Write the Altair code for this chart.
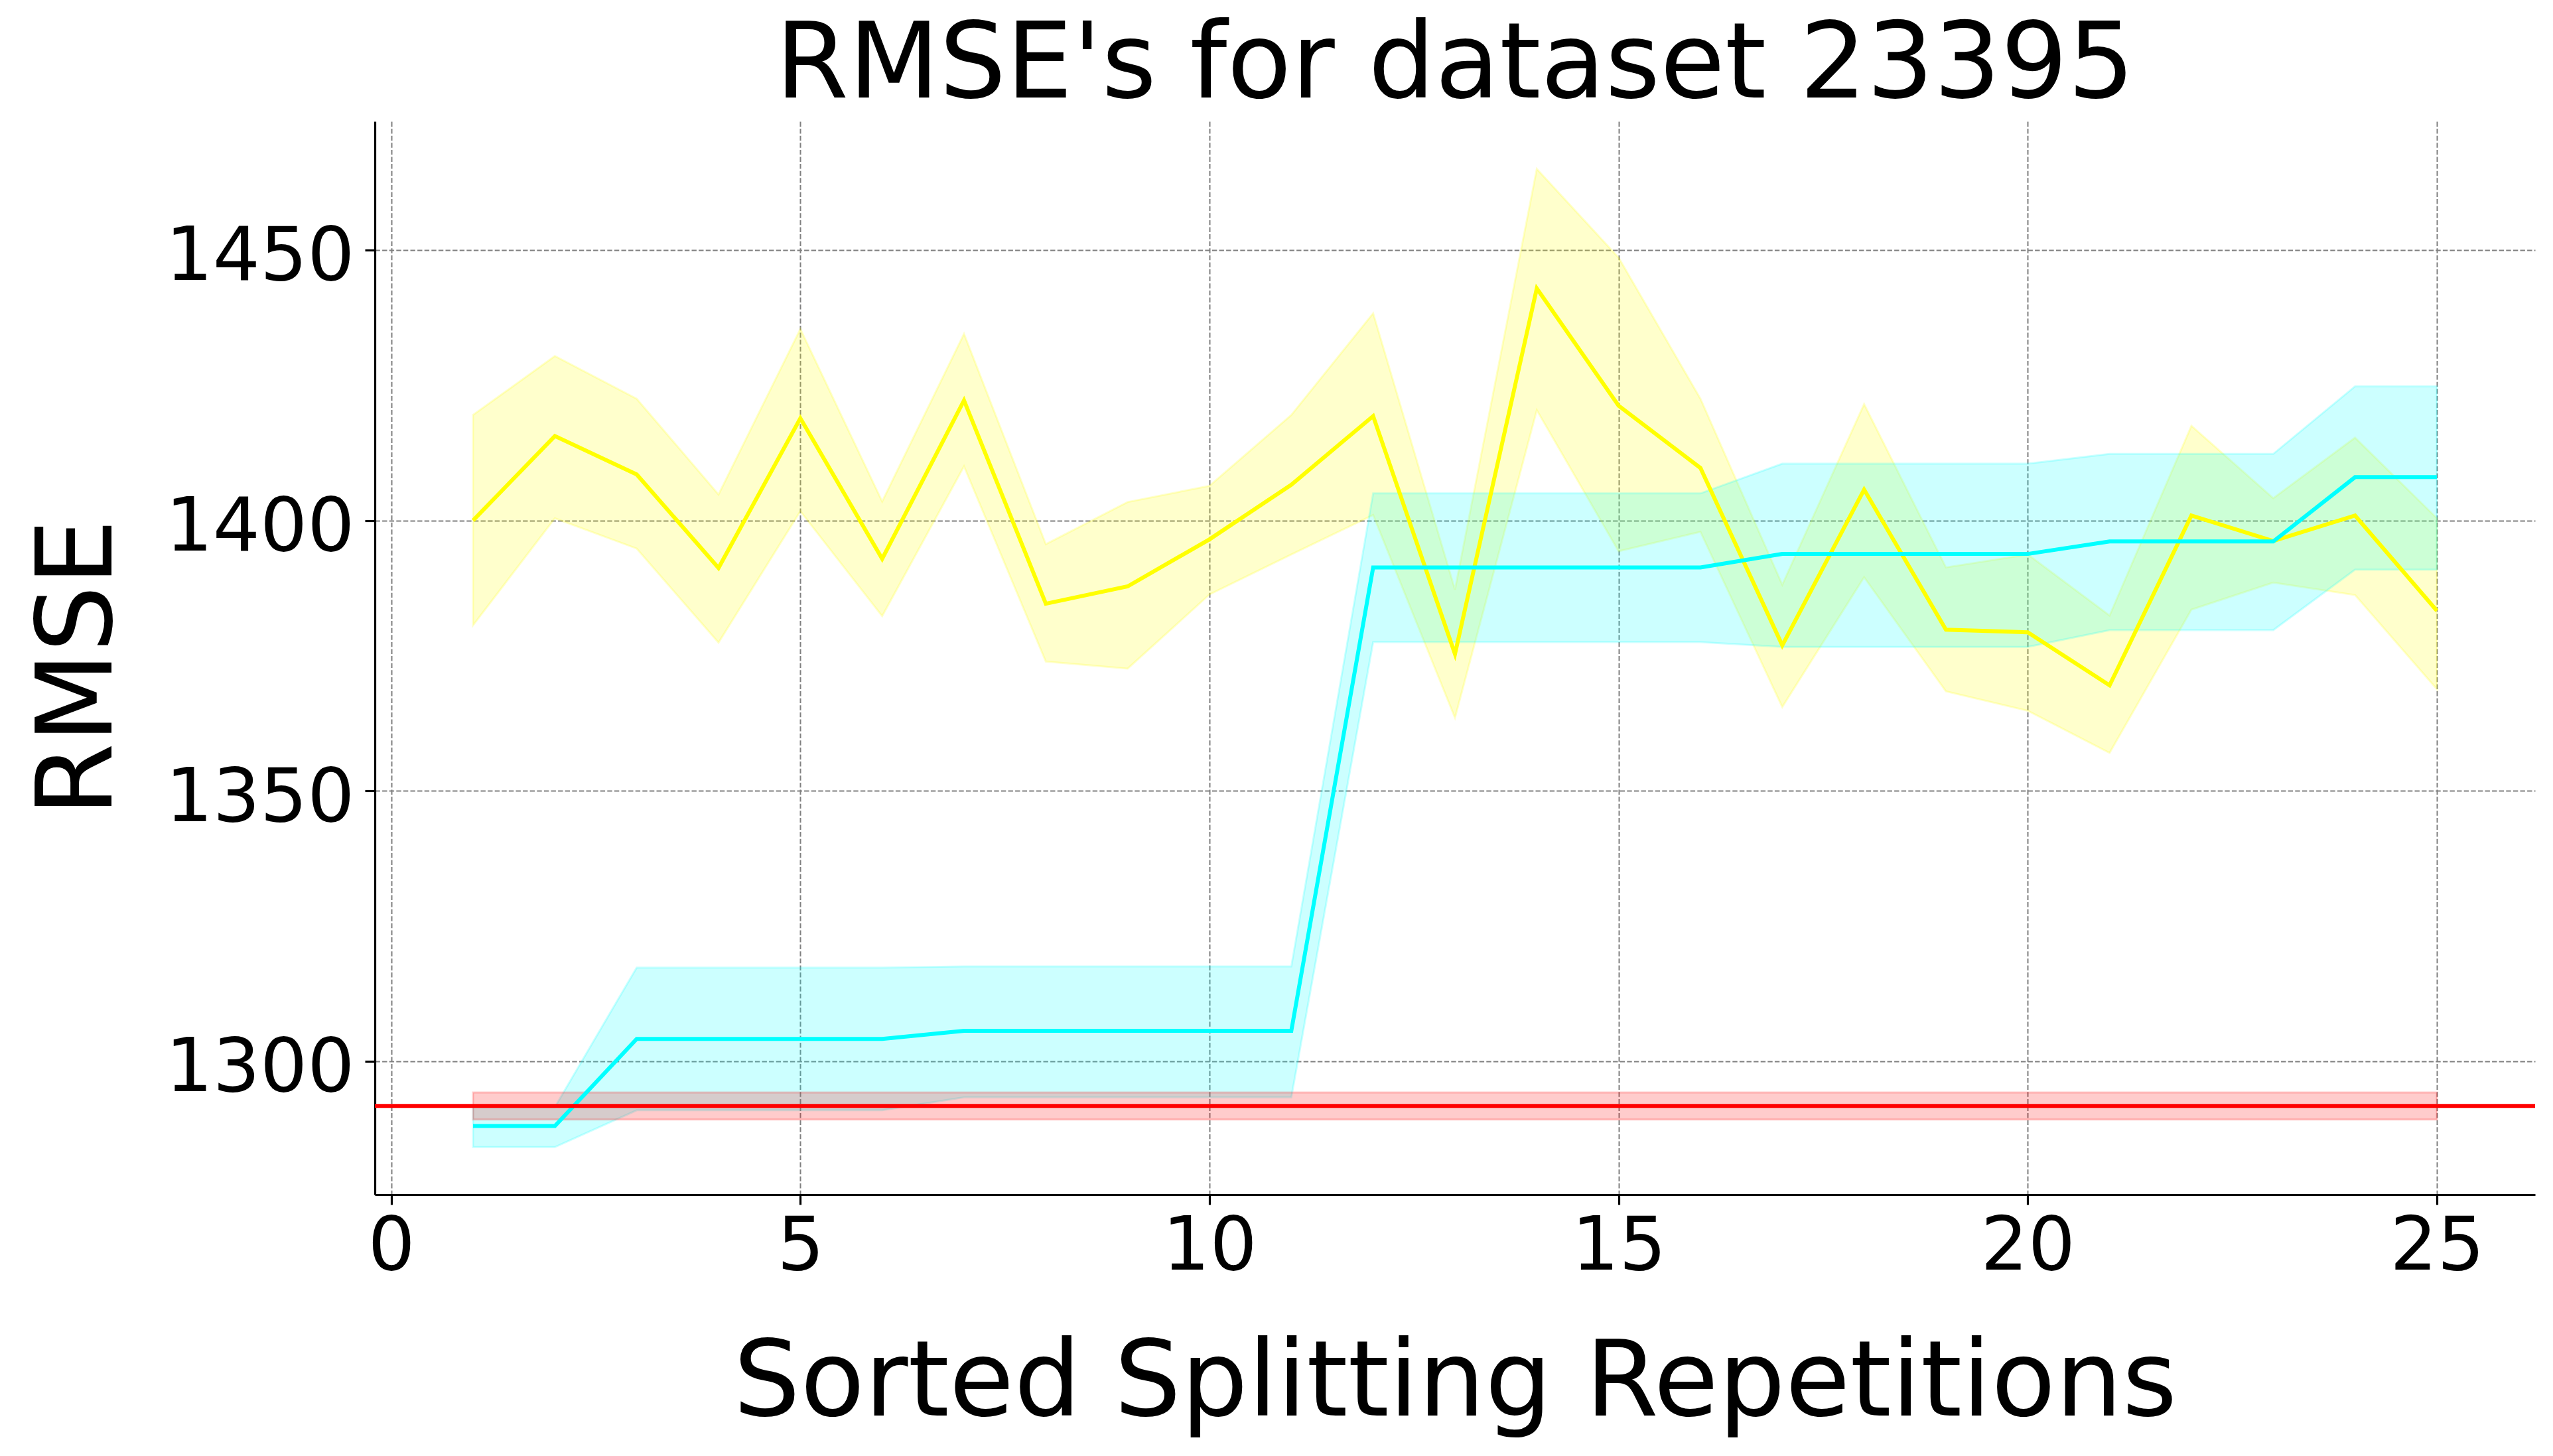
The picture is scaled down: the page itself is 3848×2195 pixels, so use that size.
import altair as alt
import pandas as pd

# ---------------- data ----------------
reps = list(range(1, 26))

yellow_mean = [1400.0, 1415.6, 1408.5, 1391.2, 1418.9, 1392.9, 1422.2, 1384.6, 1387.8, 1396.5,
               1406.6, 1419.3, 1375.3, 1442.9, 1421.2, 1409.7, 1376.9, 1405.7, 1379.8, 1379.3,
               1369.5, 1400.9, 1396.2, 1400.9, 1383.3]
yellow_upper = [1419.5, 1430.4, 1422.5, 1404.8, 1435.4, 1403.5, 1434.5, 1395.6, 1403.4, 1406.4,
                1419.5, 1438.3, 1387.2, 1465.0, 1448.6, 1422.5, 1388.1, 1421.5, 1391.3, 1393.7,
                1382.4, 1417.5, 1404.1, 1415.3, 1400.4]
yellow_lower = [1380.6, 1400.4, 1394.8, 1377.4, 1401.7, 1382.3, 1410.0, 1373.9, 1372.6, 1386.3,
                1393.7, 1401.0, 1363.5, 1420.4, 1394.3, 1397.9, 1365.5, 1389.5, 1368.4, 1364.8,
                1357.0, 1383.5, 1388.5, 1386.2, 1368.8]

cyan_mean = [1288.0, 1288.0, 1304.1, 1304.1, 1304.1, 1304.1, 1305.6, 1305.6, 1305.6, 1305.6,
             1305.6, 1391.3, 1391.3, 1391.3, 1391.3, 1391.3, 1393.8, 1393.8, 1393.8, 1393.8,
             1396.1, 1396.1, 1396.1, 1408.0, 1408.0]
cyan_upper = [1291.5, 1291.5, 1317.3, 1317.3, 1317.3, 1317.3, 1317.5, 1317.5, 1317.5, 1317.5,
              1317.5, 1405.0, 1405.0, 1405.0, 1405.0, 1405.0, 1410.5, 1410.5, 1410.5, 1410.5,
              1412.3, 1412.3, 1412.3, 1424.8, 1424.8]
cyan_lower = [1284.1, 1284.1, 1290.9, 1290.9, 1290.9, 1290.9, 1293.3, 1293.3, 1293.3, 1293.3,
              1293.3, 1377.5, 1377.5, 1377.5, 1377.5, 1377.5, 1376.6, 1376.6, 1376.6, 1376.6,
              1379.7, 1379.7, 1379.7, 1390.9, 1390.9]

red_band_x = [1, 25]
red_upper = [1294.2, 1294.2]
red_lower = [1289.2, 1289.2]
red_mean = [1291.7]

x_ticks = [0, 5, 10, 15, 20, 25]
y_ticks = [1300, 1350, 1400, 1450]

title_text = "RMSE's for dataset 23395"
x_title = "Sorted Splitting Repetitions"
y_title = "RMSE"

# ---------------- styling ----------------
FONT = "DejaVu Sans"
BIG = 158.7
x_scale = alt.Scale(domain=[-0.2, 26.2], nice=False, zero=False)
y_scale = alt.Scale(domain=[1275.3, 1473.8], nice=False, zero=False)

common_axis = dict(
    labelFont=FONT, labelFontSize=112, labelColor="black", labelLimit=0,
    titleFont=FONT, titleFontSize=BIG, titleFontWeight="normal", titleColor="black",
    titleLimit=0,
    tickSize=15, tickWidth=3.2, tickColor="black",
    domainColor="black", domainWidth=3.2,
    grid=True, gridColor="#808080", gridDash=[7.4, 3.2], gridWidth=2,
    labelOverlap=False, labelFlush=False,
)

x_axis = alt.Axis(values=x_ticks, format="d", title=x_title,
                  titleY=332, titleBaseline="alphabetic",
                  labelBaseline="alphabetic", labelPadding=97,
                  **common_axis)
y_axis = alt.Axis(values=y_ticks, format="d", title=y_title,
                  titleX=-398, titleY=823, titleAngle=270, titleAlign="center",
                  titleBaseline="alphabetic",
                  labelBaseline="alphabetic", labelOffset=45, labelPadding=16,
                  labelAlign="right",
                  **common_axis)


def band(x, lo, hi, color):
    df = pd.DataFrame({"x": x, "lo": lo, "hi": hi})
    return alt.Chart(df).mark_area(
        color=color, fillOpacity=0.2, stroke=color, strokeOpacity=0.2, strokeWidth=3
    ).encode(
        x=alt.X("x:Q", scale=x_scale, axis=x_axis),
        y=alt.Y("lo:Q", scale=y_scale, axis=y_axis),
        y2="hi:Q",
    )


def line(x, y, color):
    df = pd.DataFrame({"x": x, "y": y})
    return alt.Chart(df).mark_line(color=color, strokeWidth=6).encode(
        x=alt.X("x:Q", scale=x_scale, axis=x_axis),
        y=alt.Y("y:Q", scale=y_scale, axis=y_axis),
    )


red_rule = alt.Chart(pd.DataFrame({"y": red_mean})).mark_rule(
    color="#FF0000", strokeWidth=6
).encode(y=alt.Y("y:Q", scale=y_scale, axis=y_axis))

chart = alt.layer(
    band(reps, yellow_lower, yellow_upper, "#FFFF00"),
    band(reps, cyan_lower, cyan_upper, "#00FFFF"),
    band(red_band_x, red_lower, red_upper, "#FF0000"),
    line(reps, yellow_mean, "#FFFF00"),
    line(reps, cyan_mean, "#00FFFF"),
    red_rule,
).properties(
    width=3256,
    height=1618,
    autosize=alt.AutoSizeParams(type="none"),
    padding={"left": 557, "top": 175, "right": 15, "bottom": 370},
    title=alt.TitleParams(title_text, font=FONT, fontSize=BIG, fontWeight="normal",
                          color="black", anchor="middle", offset=2),
).configure(background="white").configure_view(stroke=None)

chart.save("out.html", embed_options={"renderer": "svg", "actions": False})
